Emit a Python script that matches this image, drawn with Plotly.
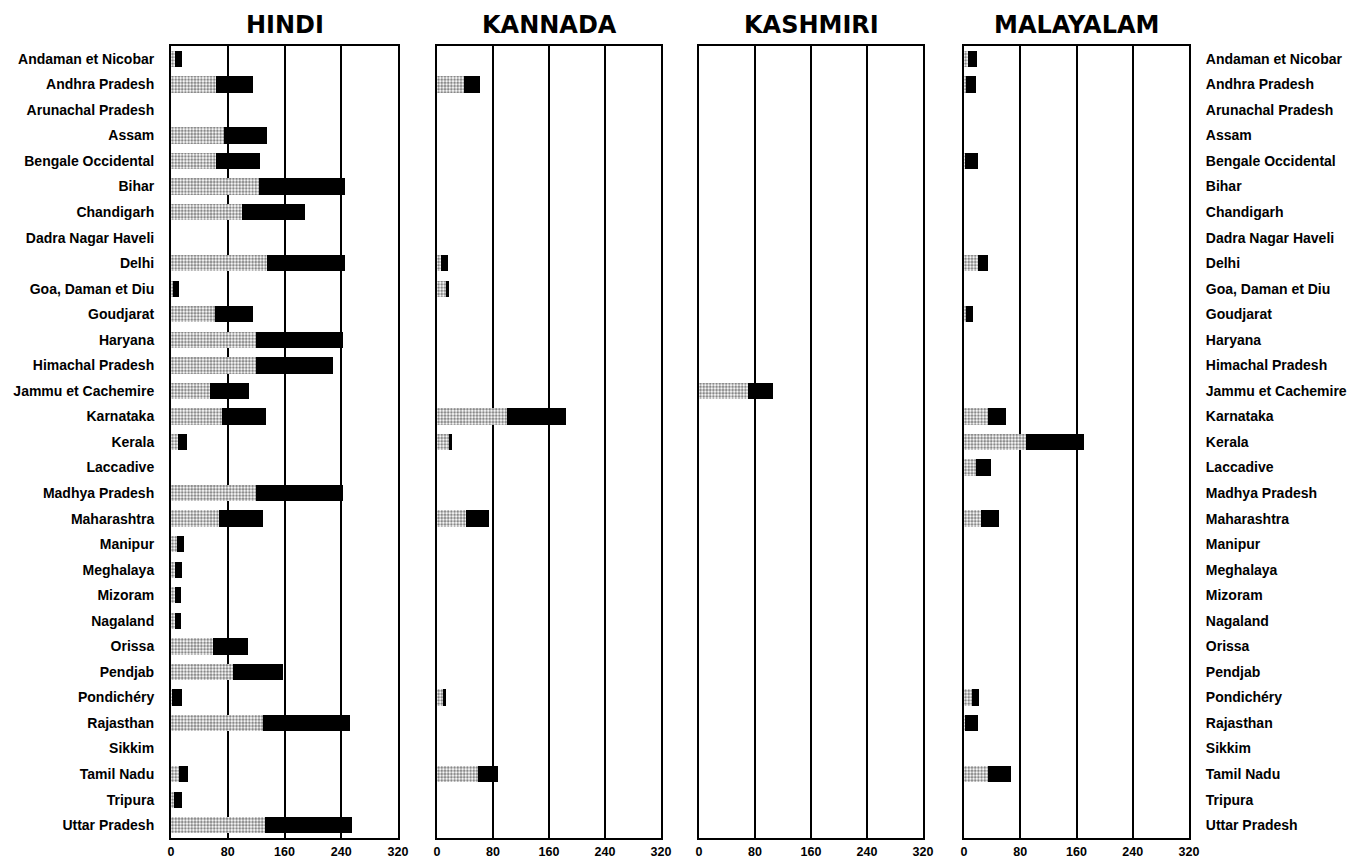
import plotly.graph_objects as go

states = ["Andaman et Nicobar", "Andhra Pradesh", "Arunachal Pradesh", "Assam",
          "Bengale Occidental", "Bihar", "Chandigarh", "Dadra Nagar Haveli", "Delhi",
          "Goa, Daman et Diu", "Goudjarat", "Haryana", "Himachal Pradesh",
          "Jammu et Cachemire", "Karnataka", "Kerala", "Laccadive", "Madhya Pradesh",
          "Maharashtra", "Manipur", "Meghalaya", "Mizoram", "Nagaland", "Orissa",
          "Pendjab", "Pondichéry", "Rajasthan", "Sikkim", "Tamil Nadu", "Tripura",
          "Uttar Pradesh"]

N = None
hindi_light = [5, 63, N, 75, 63, 124, 100, N, 135, 3, 62, 120, 120, 55, 72, 10, N, 120,
               68, 8, 5, 6, 6, 59, 88, 1, 130, N, 11, 4, 132]
hindi_dark = [10, 52, N, 60, 63, 121, 89, N, 110, 8, 54, 122, 108, 55, 62, 12, N, 122,
              61, 10, 10, 8, 8, 49, 70, 15, 122, N, 13, 12, 123]

kannada_light = [N, 39, N, N, N, N, N, N, 6, 13, N, N, N, N, 100, 17, N, N,
                 42, N, N, N, N, N, N, 9, N, N, 58, N, N]
kannada_dark = [N, 22, N, N, N, N, N, N, 10, 4, N, N, N, N, 84, 5, N, N,
                32, N, N, N, N, N, N, 4, N, N, 29, N, N]

kashmiri_light = [N] * 13 + [70] + [N] * 17
kashmiri_dark = [N] * 13 + [36] + [N] * 17

malayalam_light = [6, 3, N, N, 2, N, N, N, 20, N, 3, N, N, N, 34, 88, 17, N,
                   24, N, N, N, N, N, N, 11, 2, N, 34, N, N]
malayalam_dark = [13, 14, N, N, 18, N, N, N, 14, N, 10, N, N, N, 26, 83, 21, N,
                  26, N, N, N, N, N, N, 10, 18, N, 33, N, N]

languages = ["HINDI", "KANNADA", "KASHMIRI", "MALAYALAM"]
x_ticks = [0, 80, 160, 240, 320]

data = [(hindi_light, hindi_dark), (kannada_light, kannada_dark),
        (kashmiri_light, kashmiri_dark), (malayalam_light, malayalam_dark)]

W, H = 1356, 862
x_px = [(171, 398), (437, 661), (699, 923), (964, 1189)]
y_dom = [1 - 838 / H, 1 - 46 / H]

fig = go.Figure()
for i, (light, dark) in enumerate(data):
    k = "" if i == 0 else str(i + 1)
    fig.add_trace(go.Bar(
        y=states, x=light, orientation="h", xaxis="x" + k, yaxis="y" + k,
        marker=dict(color="white", line=dict(width=0),
                    pattern=dict(shape=".", fgcolor="#111", bgcolor="white",
                                 size=3.2, solidity=0.55)),
        showlegend=False, hoverinfo="x+y"))
    fig.add_trace(go.Bar(
        y=states, x=dark, orientation="h", xaxis="x" + k, yaxis="y" + k,
        marker=dict(color="black", line=dict(width=0)),
        showlegend=False, hoverinfo="x+y"))

layout = dict(barmode="stack", bargap=0.36, width=W, height=H,
              plot_bgcolor="white", paper_bgcolor="white",
              margin=dict(l=0, r=0, t=0, b=0), annotations=[])
for i in range(4):
    k = "" if i == 0 else str(i + 1)
    x0, x1 = x_px[i]
    layout["xaxis" + k] = dict(
        domain=[x0 / W, x1 / W], range=[0, 320], tickvals=x_ticks,
        ticktext=[str(v) for v in x_ticks], showgrid=True, gridcolor="black",
        gridwidth=2, showline=True, mirror=True, linecolor="black", linewidth=2,
        zeroline=False, ticks="", ticklabelstandoff=1, automargin=False,
        tickfont=dict(family="Liberation Sans", size=12.5, color="black", weight="bold"),
        anchor="y" + k, fixedrange=True)
    yax = dict(domain=y_dom, categoryorder="array", categoryarray=states,
               autorange="reversed", showgrid=False, showline=True, mirror=True,
               linecolor="black", linewidth=2, ticks="", anchor="x" + k,
               automargin=False,
               tickfont=dict(family="Liberation Sans", size=14, color="black",
                             weight="bold"),
               fixedrange=True)
    if i == 0:
        yax["showticklabels"] = True
        yax["ticklabelstandoff"] = 12
    elif i == 3:
        yax["showticklabels"] = True
        yax["side"] = "right"
        yax["ticklabelstandoff"] = 12
    else:
        yax["showticklabels"] = False
    layout["yaxis" + k] = yax
    layout["annotations"].append(dict(
        text="<b>" + languages[i] + "</b>", x=(x0 + x1) / 2 / W, y=1 - 25 / H,
        xref="paper", yref="paper", showarrow=False, xanchor="center",
        yanchor="middle", font=dict(family="DejaVu Sans", size=24, color="black")))

fig.update_layout(**layout)
fig.write_html("out.html", config={"displayModeBar": False},
               post_script="document.body.style.margin='0';document.body.style.overflow='hidden';")
